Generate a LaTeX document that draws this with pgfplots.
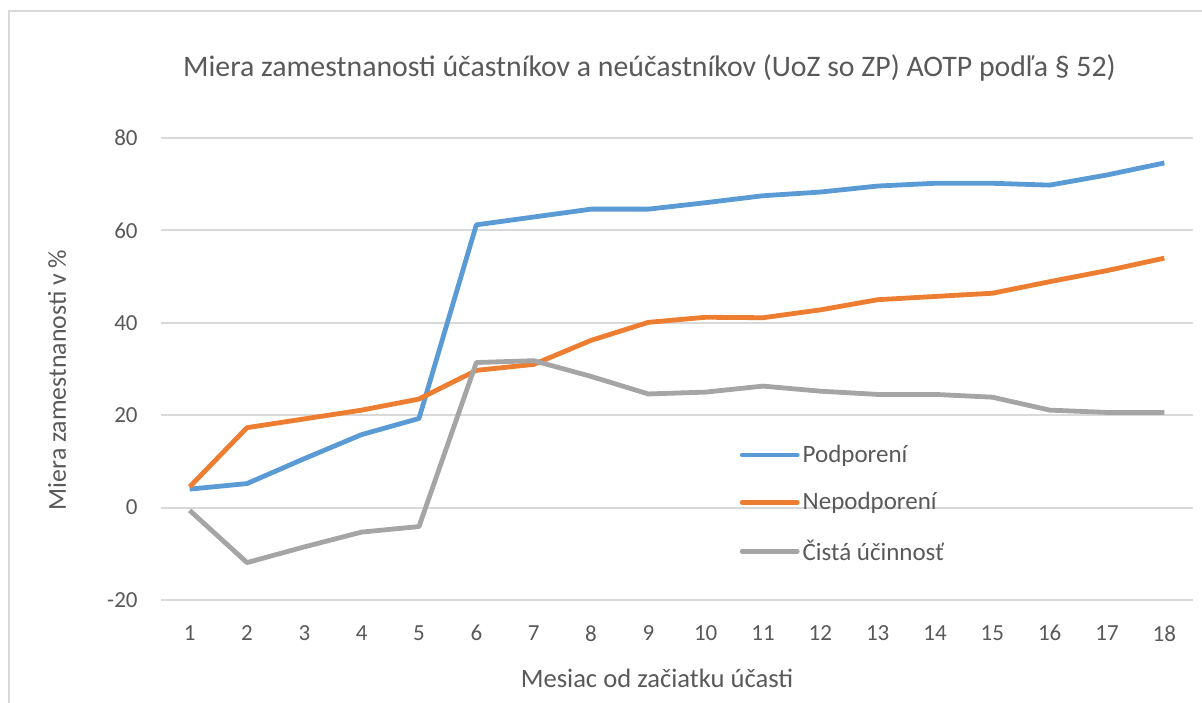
\documentclass[border=0pt]{standalone}
\usepackage{pgfplots}
\pgfplotsset{compat=1.18}
\usepackage{fontspec}
\setmainfont{Carlito}
\definecolor{txtGray}{HTML}{595959}
\definecolor{gridGray}{HTML}{D9D9D9}
\definecolor{xlBlue}{HTML}{5B9BD5}
\definecolor{xlOrange}{HTML}{ED7D31}
\definecolor{xlGray}{HTML}{A5A5A5}

\begin{document}
\begin{tikzpicture}
    % page: 1 px of the reference = 0.5pt
    \useasboundingbox (0,0) rectangle (601pt,-351pt);
    \draw[gridGray, line width=0.8pt] (4.5pt,-400pt) -- (4.5pt,-5.5pt) -- (700pt,-5.5pt);

    \begin{axis}[
        at={(80.5pt,-300pt)}, anchor=south west,
        scale only axis,
        width=516pt, height=231pt,
        xmin=0.5, xmax=18.5,
        ymin=-20, ymax=80,
        xtick={1,...,18},
        ytick={-20,0,20,40,60,80},
        axis line style={draw=none},
        tick style={draw=none},
        ymajorgrids,
        grid style={gridGray, line width=1pt},
        /pgf/number format/assume math mode=true,
        ticklabel style={font=\fontsize{11.5}{13}\selectfont, text=txtGray, inner sep=0pt},
        y tick label style={anchor=east, xshift=-11.5pt},
        x tick label style={anchor=north, yshift=-12.5pt},
        legend style={
            at={(rel axis cs:0.5605,0.208)}, anchor=west,
            draw=none, fill=none, inner sep=0pt,
            row sep=13.5pt,
            font=\fontsize{12.5}{14}\selectfont, text=txtGray,
            nodes={inner xsep=1.5pt, inner ysep=0pt},
        },
        legend cell align=left,
        legend image code/.code={
            \draw[#1, line cap=round] (0pt,0pt) -- (27.5pt,0pt);
        },
        every axis plot/.append style={line width=2.4pt, line join=round, no markers},
    ]
        % Podporeni
        \addplot[xlBlue] coordinates {
            (1,4.0) (2,5.2) (3,10.6) (4,15.8) (5,19.3) (6,61.2) (7,62.9) (8,64.6) (9,64.6)
            (10,66.0) (11,67.5) (12,68.3) (13,69.6) (14,70.2) (15,70.2) (16,69.8) (17,72.0) (18,74.6)
        };
        \addlegendentry{Podporení}

        % Nepodporeni
        \addplot[xlOrange] coordinates {
            (1,4.5) (2,17.3) (3,19.2) (4,21.1) (5,23.5) (6,29.7) (7,31.0) (8,36.2) (9,40.1)
            (10,41.2) (11,41.1) (12,42.8) (13,45.0) (14,45.7) (15,46.4) (16,48.9) (17,51.3) (18,54.0)
        };
        \addlegendentry{Nepodporení}

        % Cista ucinnost
        \addplot[xlGray] coordinates {
            (1,-0.6) (2,-11.9) (3,-8.5) (4,-5.3) (5,-4.1) (6,31.4) (7,31.8) (8,28.4) (9,24.6)
            (10,25.0) (11,26.3) (12,25.2) (13,24.5) (14,24.5) (15,23.9) (16,21.1) (17,20.6) (18,20.6)
        };
        \addlegendentry{Čistá účinnosť}
    \end{axis}

    \node[text=txtGray, font=\fontsize{14.9}{17}\selectfont] at (324.75pt,-34pt)
        {Miera zamestnanosti účastníkov a neúčastníkov (UoZ so ZP) AOTP podľa § 52)};
    \node[text=txtGray, font=\fontsize{12.9}{15}\selectfont, rotate=90] at (28.5pt,-190pt)
        {Miera zamestnanosti v \%};
    \node[text=txtGray, font=\fontsize{13.3}{15}\selectfont] at (328.5pt,-339pt)
        {Mesiac od začiatku účasti};
\end{tikzpicture}
\end{document}
